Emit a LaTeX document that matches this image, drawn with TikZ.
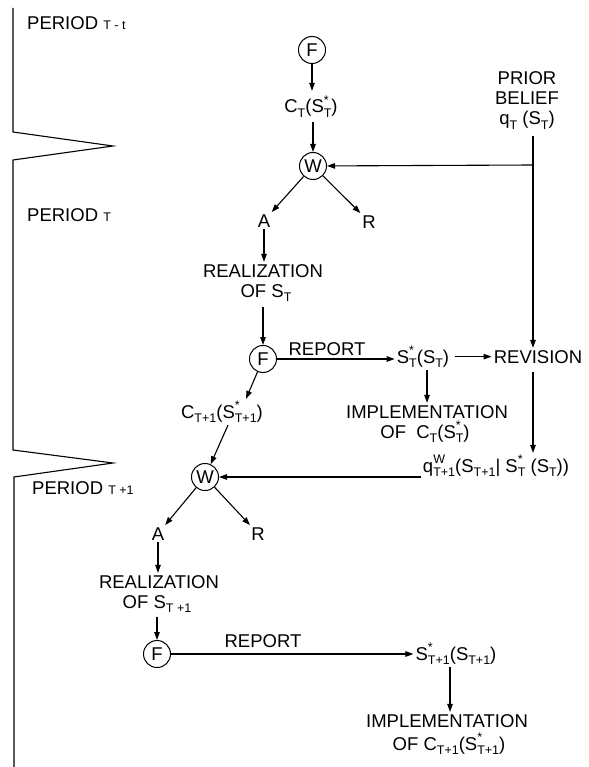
\documentclass[tikz,border=0pt]{standalone}
\usepackage{fontspec}
\setmainfont{Liberation Sans}
\usetikzlibrary{arrows.meta,calc}
\newcommand\lo[1]{\raisebox{-0.5ex}{\fontsize{12.5}{12.5}\selectfont #1}}
\newcommand\hilo[2]{\rlap{\raisebox{0.85ex}{\fontsize{12.5}{12.5}\selectfont #1}}\raisebox{-0.5ex}{\fontsize{12.5}{12.5}\selectfont #2}}
\newcommand\sm[1]{{\fontsize{12.5}{12.5}\selectfont #1}}
\begin{document}
\begin{tikzpicture}[x=1pt,y=-1pt,
  every node/.style={font=\fontsize{18.5}{20}\selectfont, inner sep=2pt},
  txt/.style={anchor=base},
  circ/.style={draw, circle, minimum size=27pt, inner sep=0pt, line width=1pt},
  arr/.style={-{Triangle[length=8pt,width=5.5pt]}, line width=1.1pt},
  ln/.style={line width=1.1pt}]
\useasboundingbox (0,0) rectangle (588,767);

% period boundary
\draw[ln, line join=miter] (13,8) -- (13,132) -- (113,146) -- (13,160) -- (13,450) -- (113,463) -- (14,477) -- (14,767);

\node[txt, anchor=base west] (p0) at (25,30) {PERIOD \sm{T - t}};
\node[txt, anchor=base west] (p1) at (25,222) {PERIOD \sm{T}};
\node[txt, anchor=base west] (p2) at (30,494) {PERIOD \sm{T +1}};

% period T
\node[circ] (f1) at (312,50) {F};
\node[txt] (ct) at (311,113) {C\lo{T}(S\hilo{*}{T})};
\node[circ] (w1) at (313,166) {W};
\node[txt] (pr1) at (527,85) {PRIOR};
\node[txt] (pr2) at (527,105) {BELIEF};
\node[txt] (pr3) at (527,125) {q\lo{T} (S\lo{T})};
\coordinate (jv) at (533,165);

\node[txt] (a1) at (264,227) {A};
\node[txt] (r1) at (369,228) {R};
\node[txt] (re1) at (263,277) {REALIZATION};
\node[txt] (of1) at (266,297) {OF S\lo{T}};
\node[circ] (f2) at (263,359) {F};
\node[txt] (rep1) at (327,355) {REPORT};
\node[txt] (st) at (423,363) {S\hilo{*}{T}(S\lo{T})};
\node[txt] (rev) at (538,363) {REVISION};
\node[txt] (im1) at (427,418) {IMPLEMENTATION};
\node[txt] (io1) at (425,438) {OF\ \ C\lo{T}(S\hilo{*}{T})};

% period T+1
\node[txt] (ct1) at (222,418) {C\lo{T+1}(S\hilo{*}{T+1})};
\node[circ] (w2) at (205,477) {W};
\node[txt] (q) at (496,472) {q\hilo{W}{T+1}(S\lo{T+1}| S\hilo{*}{T} (S\lo{T}))};
\node[txt] (a2) at (158,540) {A};
\node[txt] (r2) at (258,540) {R};
\node[txt] (re2) at (159,588) {REALIZATION};
\node[txt] (of2) at (157,608) {OF S\lo{T +1}};
\node[circ] (f3) at (157,654) {F};
\node[txt] (rep2) at (263,647) {REPORT};
\node[txt] (s1) at (456,660) {S\hilo{*}{T+1}(S\lo{T+1})};
\node[txt] (im2) at (447,727) {IMPLEMENTATION};
\node[txt] (io2) at (449,750) {OF C\lo{T+1}(S\hilo{*}{T+1})};

% connectors
\draw[arr, shorten >=3pt] (f1.south) -- (f1.south |- ct.north);
\draw[arr, shorten <=2pt] (ct.south -| w1) -- (w1);
\draw[ln, shorten <=4pt] (pr3.south -| jv) -- (jv);
\draw[arr] (jv) -- (w1);
\draw[arr] (jv) -- (jv |- rev.north);
\draw[arr] (w1) -- (a1);
\draw[arr] (w1) -- (r1);
\draw[arr] (a1.south) -- (a1.south |- re1.north);
\draw[arr, shorten <=3pt] (of1.south -| f2) -- (f2);
\draw[arr] (f2) -- (f2 -| st.west);
\draw[arr, shorten <=4pt] (rev.west -| st.east) -- (rev.west);
\draw[arr] ([xshift=4pt]st.south) -- ([xshift=4pt]st.south |- im1.north);
\draw[arr, shorten <=7pt] (jv |- rev.south) -- (jv |- q.north);
\draw[arr] (q.west |- w2) -- (w2);
\draw[arr] (f2) -- ([xshift=24pt]ct1.north);
\draw[arr] ([xshift=6pt]ct1.south) -- (w2);
\draw[arr] (w2) -- (a2);
\draw[arr] (w2) -- (r2);
\draw[arr] (a2.south) -- (a2.south |- re2.north);
\draw[arr, shorten <=2pt] (of2.south -| f3) -- (f3);
\draw[arr] (f3) -- (f3 -| s1.west);
\draw[arr] ([xshift=-6pt]s1.south) -- ([xshift=-6pt]s1.south |- im2.north);
\end{tikzpicture}
\end{document}
